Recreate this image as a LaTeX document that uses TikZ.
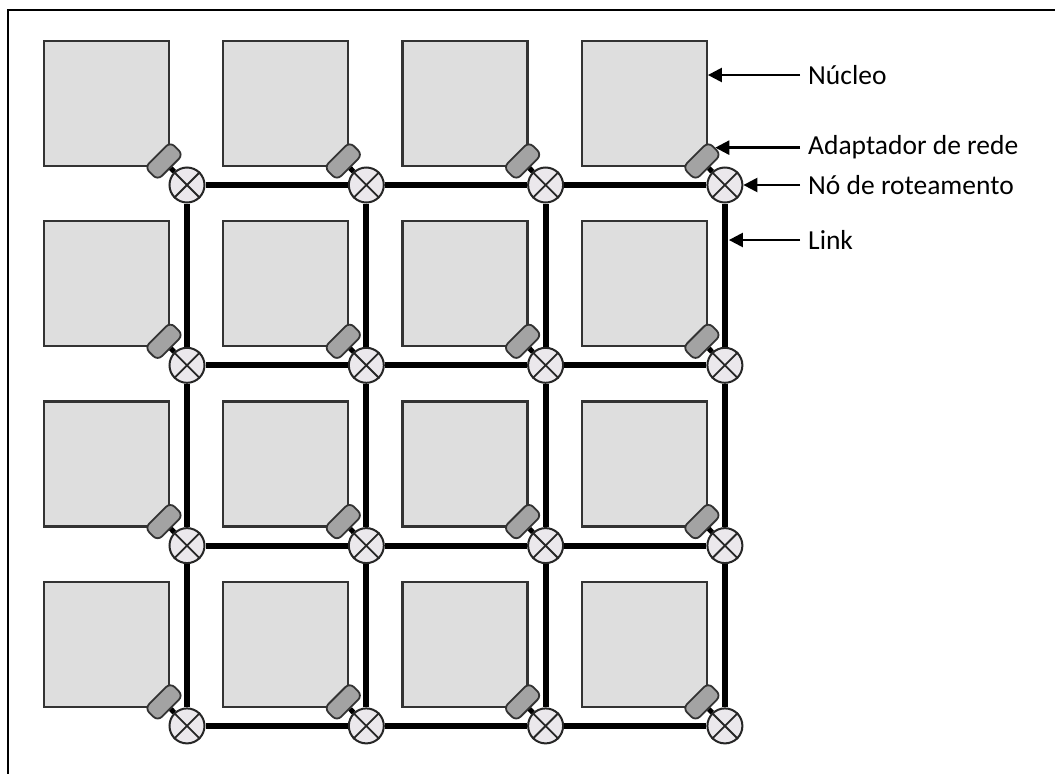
\documentclass[tikz,border=0pt]{standalone}
\usepackage{fontspec}
\setmainfont{Carlito}
\usetikzlibrary{arrows.meta,positioning,calc}

\definecolor{corefill}{HTML}{DEDEDE}
\definecolor{coreline}{HTML}{333333}
\definecolor{nafill}{HTML}{A3A3A3}
\definecolor{rfill}{HTML}{EBE8EC}

\begin{document}
\begin{tikzpicture}[
  x={(1pt,0)}, y={(0,-1pt)},
  core/.style={draw=coreline,fill=corefill,line width=2.2pt,minimum size=125pt,inner sep=0pt},
  adapter/.style={draw=coreline,fill=nafill,line width=1.8pt,rounded corners=6pt,
    minimum width=36pt,minimum height=18pt,inner sep=0pt,rotate=45},
  router/.style={circle,draw=black!85,fill=rfill,line width=2pt,minimum size=35pt,inner sep=0pt},
  xmark/.style={line width=1.8pt,black!85},
  link/.style={line width=6pt},
  wire/.style={line width=5pt},
  frame/.style={line width=2.8pt},
  lbl/.style={anchor=west,inner sep=8pt,font=\fontsize{27.5}{33}\selectfont},
  pointer/.style={-{Triangle[length=14pt,width=14pt]},line width=2.4pt}
]
\useasboundingbox (0,0) rectangle (1055,774);
\draw[frame] (1055,10) -- (8,10) -- (8,774);

% cores, network adapters and routers
\foreach \i in {0,...,3}{
  \foreach \j in {0,...,3}{
    \pgfmathsetmacro\cx{170+179.3*\i}
    \pgfmathsetmacro\cy{167+180.3*\j}
    \node[core,anchor=south east] (core-\i-\j) at (\cx,\cy) {};
    \node[adapter] (na-\i-\j) at (\cx-6,\cy-6) {};
    \node[router] (r-\i-\j) at (\cx+17,\cy+18) {};
    \draw[xmark] (r-\i-\j.north west) -- (r-\i-\j.south east)
                 (r-\i-\j.north east) -- (r-\i-\j.south west);
    \draw[wire] (na-\i-\j) -- (r-\i-\j);
  }
}

% mesh links
\foreach \i in {0,1,2}{
  \foreach \j in {0,...,3}{
    \pgfmathtruncatemacro\k{\i+1}
    \draw[link] (r-\i-\j) -- (r-\k-\j);
    \draw[link] (r-\j-\i) -- (r-\j-\k);
  }
}

% legend
\coordinate (tx) at (800,0);
\node[lbl] (lbl-core) at (tx |- 0,75) {Núcleo};
\node[lbl] (lbl-na) at (tx |- na-3-0.east) {Adaptador de rede};
\node[lbl] (lbl-r) at (tx |- r-3-0.east) {Nó de roteamento};
\node[lbl] (lbl-link) at (tx |- 0,240) {Link};
\draw[pointer] (lbl-core.west) -- (lbl-core.west -| core-3-0.east);
\draw[pointer] (lbl-na.west) -- (na-3-0.east);
\draw[pointer] (lbl-r.west) -- (r-3-0.east);
\draw[pointer,shorten >=4pt] (lbl-link.west) -- (lbl-link.west -| r-3-0);
\end{tikzpicture}
\end{document}
